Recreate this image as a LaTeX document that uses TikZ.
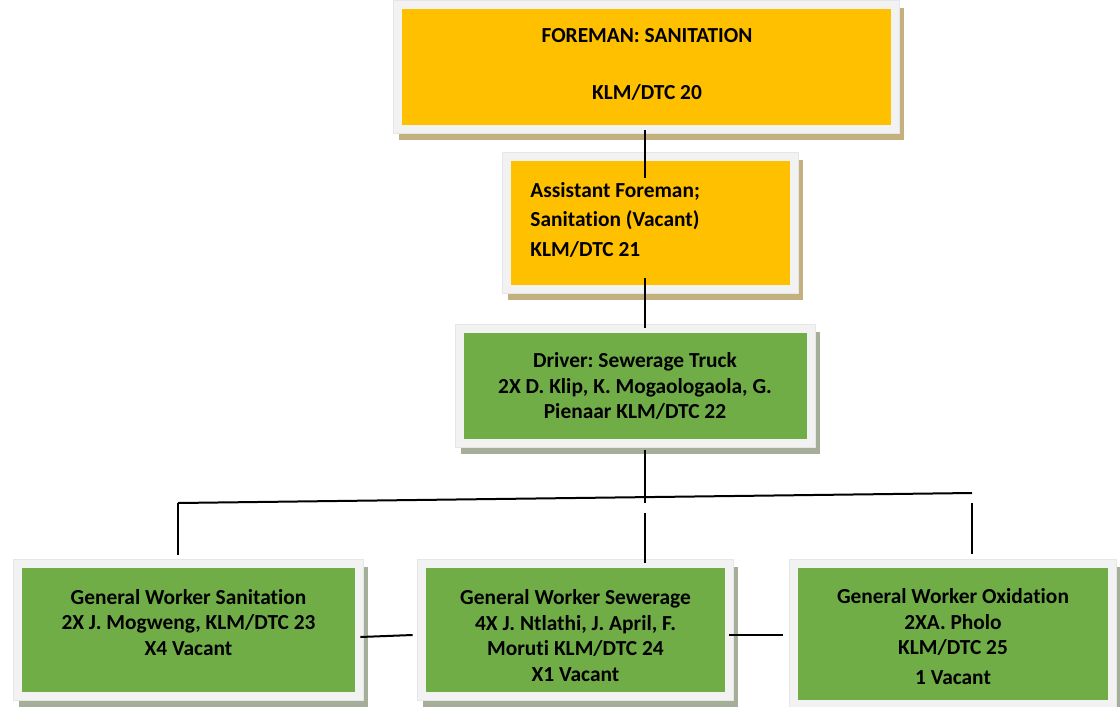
\documentclass[tikz,border=0pt]{standalone}
\usepackage{fontspec}
\setmainfont{Carlito}[Ligatures=NoCommon]
\usetikzlibrary{calc,backgrounds}
\definecolor{orangeF}{HTML}{FFC000}
\definecolor{greenF}{HTML}{70AD47}
\definecolor{frameF}{HTML}{F2F2F2}
\definecolor{frameD}{HTML}{E6E6E6}
\definecolor{shO}{HTML}{C4B07E}
\definecolor{shG}{HTML}{A4AE98}
\frenchspacing
\begin{document}
\begin{tikzpicture}[x=0.5pt,y=-0.5pt,
  box/.style={rectangle, inner sep=0pt, draw=none},
  txt/.style={font=\bfseries\fontsize{10.7}{12.75}\selectfont, align=center, inner sep=0pt},
  conn/.style={line width=1pt, black}]
\useasboundingbox (0,0) rectangle (1120,707);
% boxes
\node[box, fill=orangeF, minimum width=244.5pt, minimum height=58pt] (top) at (646.5,67) {};
\node[box, fill=orangeF, minimum width=139.5pt, minimum height=62pt] (asst) at (650.5,223) {};
\node[box, fill=greenF, minimum width=171.5pt, minimum height=53pt] (drv) at (635.5,386) {};
\node[box, fill=greenF, minimum width=166.5pt, minimum height=62pt] (gws) at (188.5,630) {};
\node[box, fill=greenF, minimum width=149.5pt, minimum height=62pt] (gwsw) at (575.5,630) {};
\node[box, fill=greenF, minimum width=155pt, minimum height=66pt] (gwo) at (953,634) {};
% frames and shadows
\begin{scope}[on background layer]
\foreach \n/\s in {top/shO, asst/shO, drv/shG, gws/shG, gwsw/shG, gwo/shG} {
  \fill[\s] ($(\n.north west)+(-3,-1)$) rectangle ($(\n.south east)+(13,15)$);
  \filldraw[fill=frameF, draw=frameD, line width=0.5pt] ($(\n.north west)+(-8,-8)$) rectangle ($(\n.south east)+(8,8)$);
}
\end{scope}
% texts
\node[txt] (topT) at (647,64.5) {FOREMAN: SANITATION\\[15.75pt]KLM/DTC 20};
\node[txt, align=left, anchor=west, font=\bfseries\fontsize{10.7}{14.75}\selectfont] (asstT) at (530,219.5) {Assistant Foreman;\\Sanitation (Vacant)\\KLM/DTC 21};
\node[txt] (drvT) at (635,386) {Driver: Sewerage Truck\\2X D. Klip, K. Mogaologaola, G.\\Pienaar KLM/DTC 22};
\node[txt] (gwsT) at (188.5,622.5) {General Worker Sanitation\\2X J. Mogweng, KLM/DTC 23\\X4 Vacant};
\node[txt] (gwswT) at (575.5,635.5) {General Worker Sewerage\\4X J. Ntlathi, J. April, F.\\Moruti KLM/DTC 24\\X1 Vacant};
\node[txt] (gwoT) at (953,637) {General Worker Oxidation\\2XA. Pholo\\KLM/DTC 25\\[2.25pt]1 Vacant};
% connectors
\coordinate (busL) at (178,503);
\coordinate (busR) at (972,493);
\draw[conn] ($(top.south)+(-1.5,5)$) -- ($(asst.north)+(-5.5,17)$);
\draw[conn] ($(asst.south)+(-5.5,-7)$) -- ($(drv.north)+(9.5,-5)$);
\draw[conn] ($(drv.south)+(9.5,11)$) -- ($(drv.south)+(9.5,64)$);
\draw[conn] (busL) -- (busR);
\draw[conn] (busL) -- ($(gws.north)+(-10.5,-13)$);
\draw[conn] ($(gwsw.north)+(69.5,-55)$) -- ($(gwsw.north)+(69.5,-5)$);
\draw[conn] ($(gwo.north)+(19,-65)$) -- ($(gwo.north)+(19,-14)$);
\draw[conn] ($(gws.east)+(5,7)$) -- ($(gwsw.west)+(-13,5)$);
\draw[conn] ($(gwsw.east)+(4,5)$) -- ($(gwo.west)+(-15,1)$);
\end{tikzpicture}
\end{document}
